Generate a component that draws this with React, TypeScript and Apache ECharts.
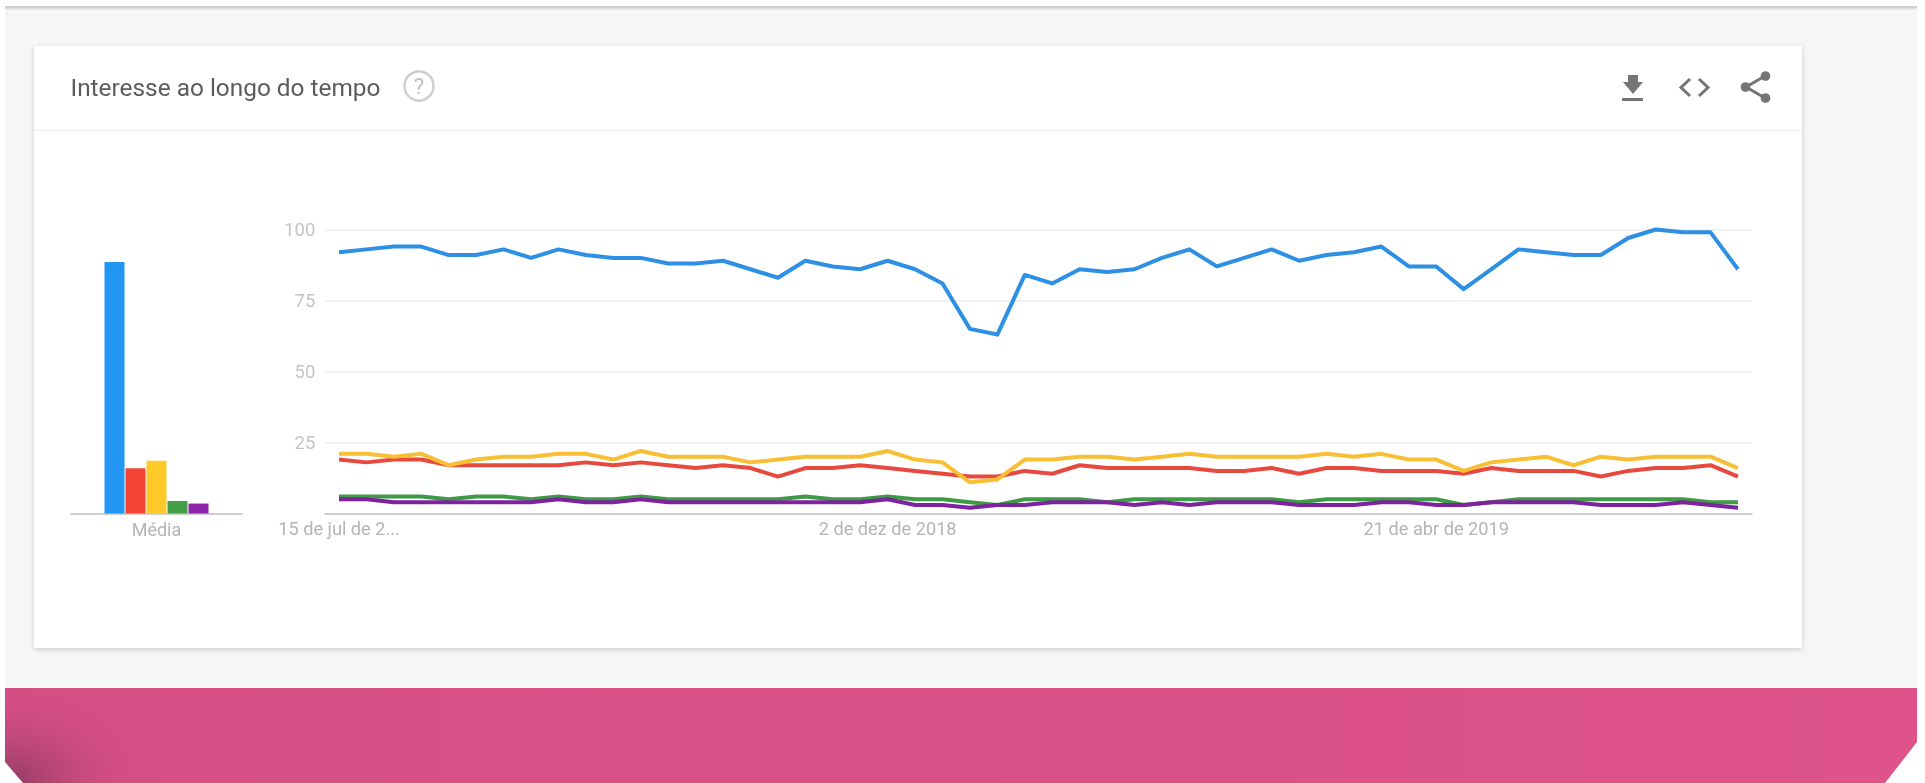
import React, { useEffect, useRef } from "react";
import * as echarts from "echarts";

const title = "Interesse ao longo do tempo";
const averageLabel = ["Média"];
const seriesNames = ["Termo 1", "Termo 2", "Termo 3", "Termo 4", "Termo 5"];
const weeks = [
  "15 de jul de 2018","22 de jul de 2018","29 de jul de 2018","5 de ago de 2018","12 de ago de 2018","19 de ago de 2018","26 de ago de 2018",
  "2 de set de 2018","9 de set de 2018","16 de set de 2018","23 de set de 2018","30 de set de 2018","7 de out de 2018","14 de out de 2018",
  "21 de out de 2018","28 de out de 2018","4 de nov de 2018","11 de nov de 2018","18 de nov de 2018","25 de nov de 2018","2 de dez de 2018",
  "9 de dez de 2018","16 de dez de 2018","23 de dez de 2018","30 de dez de 2018","6 de jan de 2019","13 de jan de 2019","20 de jan de 2019",
  "27 de jan de 2019","3 de fev de 2019","10 de fev de 2019","17 de fev de 2019","24 de fev de 2019","3 de mar de 2019","10 de mar de 2019",
  "17 de mar de 2019","24 de mar de 2019","31 de mar de 2019","7 de abr de 2019","14 de abr de 2019","21 de abr de 2019","28 de abr de 2019",
  "5 de mai de 2019","12 de mai de 2019","19 de mai de 2019","26 de mai de 2019","2 de jun de 2019","9 de jun de 2019","16 de jun de 2019",
  "23 de jun de 2019","30 de jun de 2019","7 de jul de 2019",
];
const blue = [92,93,94,94,91,91,93,90,93,91,90,90,88,88,89,86,83,89,87,86,89,86,81,65,63,84,81,86,85,86,90,93,87,90,93,89,91,92,94,87,87,79,86,93,92,91,91,97,100,99,99,86];
const red = [19,18,19,19,17,17,17,17,17,18,17,18,17,16,17,16,13,16,16,17,16,15,14,13,13,15,14,17,16,16,16,16,15,15,16,14,16,16,15,15,15,14,16,15,15,15,13,15,16,16,17,13];
const yellow = [21,21,20,21,17,19,20,20,21,21,19,22,20,20,20,18,19,20,20,20,22,19,18,11,12,19,19,20,20,19,20,21,20,20,20,20,21,20,21,19,19,15,18,19,20,17,20,19,20,20,20,16];
const green = [6,6,6,6,5,6,6,5,6,5,5,6,5,5,5,5,5,6,5,5,6,5,5,4,3,5,5,5,4,5,5,5,5,5,5,4,5,5,5,5,5,3,4,5,5,5,5,5,5,5,4,4];
const purple = [5,5,4,4,4,4,4,4,5,4,4,5,4,4,4,4,4,4,4,4,5,3,3,2,3,3,4,4,4,3,4,3,4,4,4,3,3,3,4,4,3,3,4,4,4,4,3,3,3,4,3,2];
const averages = [88.6, 15.9, 18.6, 4.4, 3.5];
const yTicks = { min: 0, max: 100, interval: 25 };
const labelledWeeks = [0, 20, 40];

const lineColors = ["#2E90E4", "#E8493F", "#F8BF35", "#3F9A46", "#7E22A0"];
const barColors = ["#2196F3", "#F44336", "#FFCA28", "#43A047", "#8E24AA"];
const lineData = [blue, red, yellow, green, purple];

const iconGrey = "#757575";

export default function App() {
  const ref = useRef<HTMLDivElement>(null);
  useEffect(() => {
    const chart = echarts.init(ref.current!, undefined, { renderer: "svg" });
    const font = "Roboto, sans-serif";
    chart.setOption({
      animation: false,
      backgroundColor: "#ffffff",
      graphic: [
        { type: "rect", z: -10, shape: { x: 5, y: 6, width: 1912, height: 682 }, style: { fill: "#f6f6f6" } },
        { type: "rect", z: -9, shape: { x: 5, y: 6, width: 1912, height: 4 }, style: { fill: { type: "linear", x: 0, y: 0, x2: 0, y2: 1, colorStops: [{ offset: 0, color: "#c4c4c4" }, { offset: 1, color: "#ececec" }] } } },
        { type: "rect", z: -8, shape: { x: 34, y: 46, width: 1768, height: 602 }, style: { fill: "#ffffff", shadowBlur: 5, shadowColor: "rgba(0,0,0,0.18)", shadowOffsetY: 1.5 } },
        { type: "line", z: -7, shape: { x1: 34, y1: 130.5, x2: 1802, y2: 130.5 }, style: { stroke: "#f0f0f0", lineWidth: 1.5 } },
        { type: "rect", z: -6, shape: { x: 5, y: 688, width: 1912, height: 95 }, style: { fill: { type: "linear", x: 0, y: 0, x2: 1, y2: 0, colorStops: [{ offset: 0, color: "#D54E84" }, { offset: 1, color: "#DD538A" }] } } },
        { type: "rect", z: -5, shape: { x: 5, y: 688, width: 130, height: 95 }, style: { fill: { type: "radial", x: 0.04, y: 1, r: 1.05, colorStops: [{ offset: 0, color: "rgba(135,55,95,0.85)" }, { offset: 1, color: "rgba(213,78,132,0)" }] } } },
        { type: "polygon", z: -4, shape: { points: [[0, 762], [5, 762], [23, 783], [0, 783]] }, style: { fill: "#ffffff" } },
        { type: "polygon", z: -4, shape: { points: [[1917, 742], [1925, 742], [1925, 783], [1885, 783]] }, style: { fill: "#ffffff" } },
        { type: "text", z: 5, style: { x: 70.5, y: 87, text: title, font: `24.4px ${font}`, fill: "#5c5c5c", verticalAlign: "middle", align: "left" } },
        { type: "circle", z: 5, shape: { cx: 419, cy: 86, r: 14.5 }, style: { fill: "none", stroke: "#cfcfcf", lineWidth: 2.5 } },
        { type: "text", z: 5, style: { x: 419, y: 86, text: "?", font: `22px ${font}`, fill: "#bdbdbd", verticalAlign: "middle", align: "center" } },
        // download
        { type: "polygon", z: 5, shape: { points: [[1628, 75], [1638, 75], [1638, 82], [1643, 82], [1633, 94], [1623, 82], [1628, 82]] }, style: { fill: iconGrey } },
        { type: "rect", z: 5, shape: { x: 1622, y: 98, width: 21, height: 3 }, style: { fill: iconGrey } },
        // embed
        { type: "polyline", z: 5, shape: { points: [[1690, 79], [1681, 87.5], [1690, 96]] }, style: { fill: "none", stroke: iconGrey, lineWidth: 3 } },
        { type: "polyline", z: 5, shape: { points: [[1699, 79], [1708, 87.5], [1699, 96]] }, style: { fill: "none", stroke: iconGrey, lineWidth: 3 } },
        // share
        { type: "polyline", z: 5, shape: { points: [[1765, 76], [1746, 87], [1765, 98]] }, style: { fill: "none", stroke: iconGrey, lineWidth: 3 } },
        { type: "circle", z: 5, shape: { cx: 1745.5, cy: 87, r: 4.8 }, style: { fill: iconGrey } },
        { type: "circle", z: 5, shape: { cx: 1765.5, cy: 76, r: 4.8 }, style: { fill: iconGrey } },
        { type: "circle", z: 5, shape: { cx: 1765.5, cy: 98, r: 4.8 }, style: { fill: iconGrey } },
      ],
      grid: [
        { left: 71, width: 171, top: 229.5, height: 284, containLabel: false },
        { left: 325.3, width: 1426.4, top: 229.5, height: 284, containLabel: false },
      ],
      xAxis: [
        {
          type: "category", gridIndex: 0, data: averageLabel,
          axisLine: { lineStyle: { color: "#cfcfcf", width: 2 } }, axisTick: { show: false },
          axisLabel: { color: "#b5b5b5", fontFamily: font, fontSize: 18, margin: 7 },
        },
        {
          type: "category", gridIndex: 1, data: weeks, boundaryGap: true,
          axisLine: { lineStyle: { color: "#cfcfcf", width: 2 } }, axisTick: { show: false },
          axisLabel: {
            color: "#b5b5b5", fontFamily: font, fontSize: 18.2, margin: 6,
            interval: (i: number) => labelledWeeks.includes(i),
            formatter: (v: string, i: number) => (i === 0 ? v.slice(0, 14) + "..." : v),
          },
        },
      ],
      yAxis: [
        { type: "value", gridIndex: 0, ...yTicks, show: false },
        {
          type: "value", gridIndex: 1, ...yTicks,
          axisLine: { show: false }, axisTick: { show: false },
          splitLine: { lineStyle: { color: "#ececec", width: 1.5 } },
          axisLabel: { color: "#c4c4c4", fontFamily: font, fontSize: 18.5, margin: 10, formatter: (v: number) => (v === 0 ? "" : String(v)) },
        },
      ],
      series: [
        ...averages.map((v, i) => ({
          type: "bar", name: seriesNames[i], xAxisIndex: 0, yAxisIndex: 0, data: [v],
          barWidth: 20, barGap: "5%", itemStyle: { color: barColors[i] },
        })),
        ...lineData.map((d, i) => ({
          type: "line", name: seriesNames[i], xAxisIndex: 1, yAxisIndex: 1, data: d,
          showSymbol: false, smooth: false, clip: false, z: 3 + i,
          lineStyle: { color: lineColors[i], width: 4, join: "round" },
        })),
      ],
    });
    return () => chart.dispose();
  }, []);
  return <div ref={ref} style={{ position: "absolute", left: 0, top: 0, width: 1925, height: 783, filter: "blur(0.6px)" }} />;
}
